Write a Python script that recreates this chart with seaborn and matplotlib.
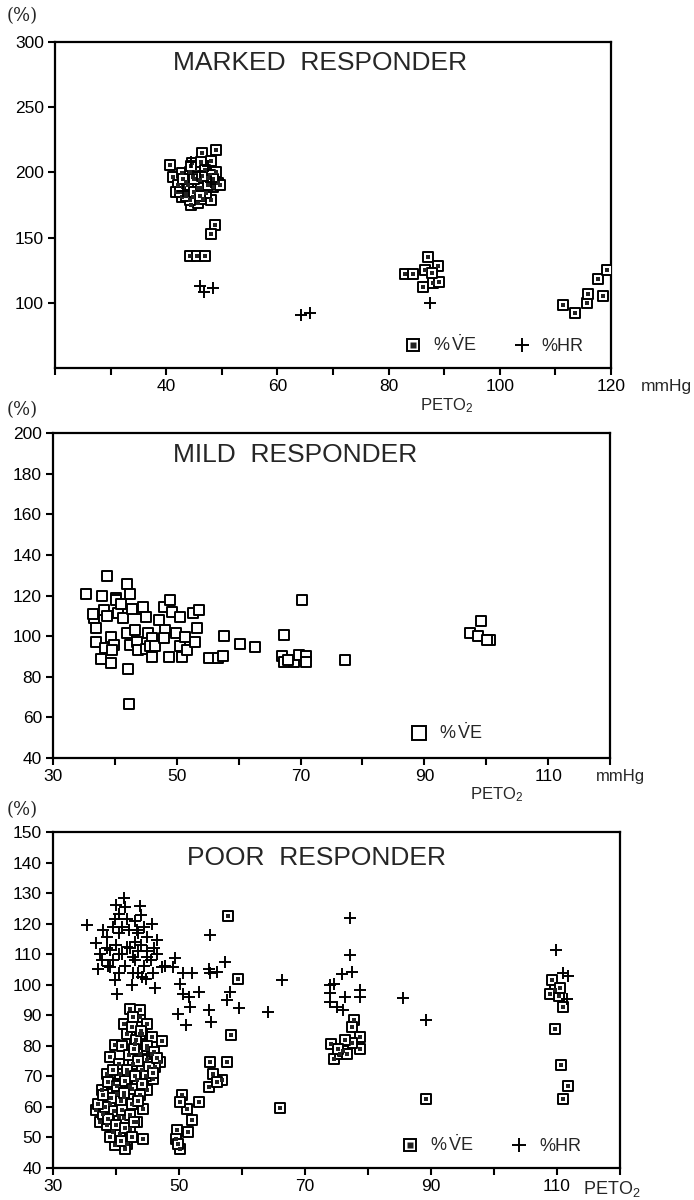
import numpy as np
import pandas as pd
import matplotlib
matplotlib.use("Agg")
import matplotlib.pyplot as plt
import seaborn as sns
from matplotlib.lines import Line2D
from matplotlib.legend_handler import HandlerTuple

# ---------------- data ----------------
# MARKED RESPONDER
marked_ve_x = [40.7, 49.0, 46.4, 44.6, 46.3, 48.0, 41.3, 42.8, 44.2, 45.4, 46.9, 49.0, 49.3, 47.5,
               46.0, 44.8, 43.6, 42.1, 41.8, 42.8, 43.6, 44.8, 44.5, 45.8, 46.6, 48.0, 47.2, 48.4,
               49.6, 45.7, 43.0, 44.2,
               43.5, 44.0, 45.0, 46.3, 47.5, 46.0, 45.0, 43.0, 47.8, 48.5, 42.5, 44.5, 46.5,
               48.8, 48.0, 44.3, 45.5, 47.0,
               83.0, 84.4, 87.1, 86.5, 88.9, 86.2, 88.0, 89.0, 87.8,
               111.4, 113.5, 115.7, 115.9, 118.6, 117.7, 119.3]
marked_ve_y = [206, 217, 215, 207.5, 208, 209, 196.8, 199.3, 200.6, 200.6, 201.9, 200.6, 191.7, 195.5,
               194.2, 196.8, 193, 190.4, 185.3, 181.5, 185.3, 181.5, 175.1, 176.4, 179.5, 178.9, 184, 189.1,
               190.4, 187.9, 189.1, 178.9,
               182, 190, 185, 188, 190, 182, 195, 195, 198, 195, 185, 205, 197,
               160, 153, 136, 136, 136,
               122.3, 122, 135, 125, 128.5, 112, 115, 116, 123,
               98, 92, 100, 107, 105.5, 118, 125]
marked_hr_x = [46.1, 46.8, 48.4, 64.2, 65.9, 87.4, 46.0, 44.5, 48.0, 43.0, 47.5]
marked_hr_y = [113, 108.5, 111.5, 91, 92, 100, 200, 208, 193, 186, 205]

# MILD RESPONDER
mild_ve_x = [35.3, 38.7, 37.9, 41.9, 42.4, 40.2, 36.7, 36.5, 36.9, 37.0, 37.8, 39.4, 38.4, 42.1,
             42.3, 39.4, 39.9, 39.6, 38.3, 38.8, 40.5, 41.3, 40.2, 41.0, 42.7, 41.9, 42.4, 43.2,
             44.3, 44.6, 43.5, 43.8, 45.0, 45.1, 45.4, 46.0, 45.7, 46.0, 46.5, 47.2, 48.0, 48.9,
             48.1, 47.9, 48.7, 49.2, 49.9, 50.6, 50.8, 50.6, 51.4, 51.7, 52.7, 53.6, 53.3, 53.0,
             55.2, 56.6, 57.4, 57.6, 60.2, 62.6, 67.3, 67.0, 67.3, 69.0, 69.7, 70.8, 70.8, 67.9,
             70.3, 77.2, 99.2, 97.3, 98.7, 100.6, 100.1]
mild_ve_y = [120.5, 129.6, 119.7, 125.5, 120.5, 118.6, 108.7, 111.0, 103.8, 97.2, 88.5, 86.6, 94.0, 83.6,
             66.5, 99.7, 95.6, 93.3, 112.8, 109.8, 111.2, 108.8, 118.0, 116.0, 113.6, 101.3, 95.6, 103.0,
             113.6, 114.4, 97.2, 93.1, 93.8, 109.5, 101.3, 98.9, 94.9, 89.8, 94.9, 107.9, 114.4, 117.7,
             103.0, 98.9, 89.8, 112.0, 101.3, 109.5, 89.8, 94.9, 99.7, 93.1, 111.2, 112.8, 104.1, 97.2,
             89.0, 89.0, 90.1, 100.2, 96.0, 94.8, 100.5, 90.0, 87.1, 87.1, 90.7, 90.0, 87.1, 88.2,
             117.7, 88.2, 107.5, 101.3, 100.2, 98.1, 98.3]

# POOR RESPONDER
poor_ve_x = [36.9, 37.5, 37.8, 38.5, 39.0, 39.8, 41.2, 41.7, 42.2, 43.8, 44.9, 45.7, 47.3, 47.0,
             45.9, 44.9, 44.3, 43.3, 42.2, 41.7, 39.8, 39.6, 38.5, 44.3, 41.4, 40.4, 41.2, 42.2,
             40.6, 39.6, 42.7, 43.8, 44.9, 44.1, 43.3, 42.5, 41.2, 39.0, 40.1, 41.7, 43.0, 44.1,
             44.9, 45.7, 46.2, 37.9, 40.6, 43.8, 43.8, 42.7,
             42.5, 43.2, 41.0, 45.0, 46.0, 42.0, 43.5, 45.2, 40.5, 41.8, 43.0, 44.8, 39.5, 38.8,
             40.2, 41.5, 42.6, 43.8, 39.2, 40.8, 38.2, 39.7, 41.0, 42.3, 43.5, 38.8, 40.0, 41.5,
             42.8, 39.0, 40.8, 42.6, 37.2, 46.5, 44.0, 42.9, 41.2, 44.2, 45.8, 38.0,
             57.7, 59.4, 58.3, 55.0, 57.6, 56.8, 55.4, 54.8, 56.1, 53.1, 51.2, 50.4, 50.2, 52.0,
             51.5, 49.7, 49.6, 50.2, 49.9, 66.1,
             77.7, 77.5, 78.7, 78.7, 77.5, 76.3, 74.2, 74.6, 75.5, 76.1, 76.6, 75.2, 89.2,
             109.2, 109.7, 108.9, 110.3, 110.9, 109.7, 110.6, 111.8, 111.0, 110.4]
poor_ve_y = [58.9, 55.0, 65.4, 70.9, 76.3, 80.2, 87.3, 84.0, 92.2, 89.4, 87.3, 82.9, 81.5, 74.7,
             69.3, 65.4, 59.4, 55.0, 52.8, 47.9, 47.5, 51.7, 54.1, 49.6, 46.3, 56.6, 63.2, 66.5,
             70.9, 67.6, 74.1, 77.4, 79.0, 72.0, 68.8, 61.0, 56.5, 61.0, 64.3, 70.9, 80.7, 84.0,
             75.2, 77.4, 73.1, 57.8, 51.1, 84.0, 91.6, 89.4,
             86.0, 82.0, 80.0, 80.0, 78.0, 77.0, 75.0, 73.0, 74.0, 72.0, 70.0, 70.0, 72.0, 68.0,
             67.0, 68.5, 66.0, 64.0, 63.0, 62.0, 60.0, 58.5, 59.0, 57.5, 62.0, 56.0, 54.0, 53.0,
             55.0, 50.0, 49.0, 50.0, 61.0, 76.0, 85.0, 79.0, 64.5, 67.5, 71.0, 64.0,
             122.5, 101.8, 83.4, 74.7, 74.7, 68.9, 70.9, 66.5, 68.0, 61.5, 59.4, 63.8, 61.6, 55.6,
             51.7, 52.3, 49.6, 46.3, 47.9, 59.6,
             88.4, 86.3, 82.9, 79.1, 80.8, 81.9, 80.7, 75.7, 77.4, 78.4, 77.2, 79.0, 62.6,
             101.5, 98.2, 97.1, 96.4, 92.7, 85.6, 73.6, 66.7, 62.7, 99.0]
poor_hr_x = [35.4, 41.4, 40.0, 43.8, 44.0, 39.8, 45.7, 38.0, 38.5, 37.2, 36.9, 39.0, 39.0, 40.5,
             41.7, 43.0, 42.7, 44.9, 46.5, 46.5, 47.3, 44.9, 40.1, 39.8, 46.2, 42.7, 44.1, 41.7,
             43.3, 37.4, 40.5,
             38.5, 39.5, 40.0, 41.0, 41.5, 42.2, 43.0, 43.5, 44.0, 44.5, 45.0, 45.5, 46.0, 42.0,
             41.0, 43.5, 40.5, 39.5, 37.8, 38.7, 40.5, 42.5, 43.5, 44.8, 45.8, 47.8, 41.3, 44.5, 43.0,
             49.4, 49.1, 50.6, 52.0, 50.2, 50.6, 51.6, 49.9, 51.1, 51.7, 53.2, 55.0, 54.8, 56.0,
             55.0, 54.7, 55.1, 57.3, 58.1, 57.6, 59.6, 66.3, 64.2,
             77.1, 77.1, 77.4, 75.9, 73.9, 74.6, 78.7, 78.7, 73.9, 75.0, 76.3, 76.0, 73.9,
             85.6, 89.2, 109.9, 110.9, 111.7, 111.6]
poor_hr_y = [119.5, 125.5, 126.0, 125.7, 122.8, 121.6, 119.8, 117.9, 115.7, 105.3, 113.5, 111.3, 105.8, 110.2,
             112.4, 114.0, 109.1, 115.7, 114.6, 110.2, 105.8, 109.0, 97.1, 101.5, 98.8, 103.7, 102.6, 121.4,
             118.0, 110.2, 116.8,
             112, 108, 113, 110, 106, 112, 108, 111, 113, 106, 111, 108, 112, 118,
             119, 117, 123, 119, 108, 106, 104, 100, 104, 102, 104, 106, 128.5, 119, 121,
             108.6, 105.8, 103.7, 103.9, 100.3, 97.1, 96.0, 90.5, 86.7, 92.7, 97.6, 116.3, 105.3, 104.2,
             103.8, 91.6, 87.8, 107.5, 97.6, 94.9, 92.4, 101.5, 91.0,
             121.9, 109.7, 104.2, 103.4, 99.8, 100.2, 98.2, 96.0, 94.4, 92.7, 96.0, 91.6, 97.2,
             95.6, 88.3, 111.3, 103.9, 102.8, 95.4]

# ---------------- style ----------------
sns.set_style("ticks")
plt.rcParams['font.family'] = ['Liberation Sans', 'DejaVu Sans']
plt.rcParams['mathtext.fontset'] = 'custom'
plt.rcParams['mathtext.rm'] = 'Liberation Sans'
plt.rcParams['mathtext.it'] = 'Liberation Sans'

fig = plt.figure(figsize=(6.94, 12), dpi=100)
W, H = 694, 1200


def make_ax(l, t, r, b):
    return fig.add_axes([l / W, 1 - b / H, (r - l) / W, (b - t) / H])


ax1 = make_ax(55, 42, 611, 368)
ax2 = make_ax(53, 433, 610, 758)
ax3 = make_ax(53, 832, 620, 1168)

SQ = 46
PL = 75


def ve_layer(ax, x, y, inner=True):
    d = pd.DataFrame({"x": x, "y": y})
    sns.scatterplot(data=d, x="x", y="y", ax=ax, marker="s", s=SQ, facecolor="white",
                    edgecolor="black", linewidth=1.4, zorder=3, legend=False)
    if inner:
        sns.scatterplot(data=d, x="x", y="y", ax=ax, marker="s", s=7, color="#222222",
                        linewidth=0, zorder=4, legend=False)


def hr_layer(ax, x, y):
    d = pd.DataFrame({"x": x, "y": y})
    sns.scatterplot(data=d, x="x", y="y", ax=ax, marker="+", s=PL, color="black",
                    linewidth=1.4, zorder=5, legend=False)


ve_layer(ax1, marked_ve_x, marked_ve_y)
hr_layer(ax1, marked_hr_x, marked_hr_y)
ve_layer(ax2, mild_ve_x, mild_ve_y, inner=False)
ve_layer(ax3, poor_ve_x, poor_ve_y)
hr_layer(ax3, poor_hr_x, poor_hr_y)

# axes limits / ticks
ax1.set_xlim(20, 120)
ax1.set_ylim(50, 300)
ax1.set_xticks(np.arange(20, 121, 10))
ax1.set_xticklabels(["" if v not in (40, 60, 80, 100, 120) else str(v) for v in range(20, 121, 10)])
ax1.set_yticks(np.arange(100, 301, 50))

ax2.set_xlim(30, 120)
ax2.set_ylim(40, 200)
ax2.set_xticks(np.arange(30, 121, 10))
ax2.set_xticklabels([str(v) if v in (30, 50, 70, 90, 110) else "" for v in range(30, 121, 10)])
ax2.set_yticks(np.arange(40, 201, 20))

ax3.set_xlim(30, 120)
ax3.set_ylim(40, 150)
ax3.set_xticks(np.arange(30, 121, 10))
ax3.set_xticklabels([str(v) if v in (30, 50, 70, 90, 110) else "" for v in range(30, 121, 10)])
ax3.set_yticks(np.arange(40, 151, 10))

for ax in (ax1, ax2, ax3):
    ax.set_xlabel("")
    ax.set_ylabel("")
    for sp in ax.spines.values():
        sp.set_visible(True)
        sp.set_linewidth(1.6)
        sp.set_color("black")
    ax.tick_params(direction="out", length=5, width=1.5, labelsize=12.5, colors="black", pad=3)

# titles
ax1.text(0.477, 0.936, "MARKED  RESPONDER", transform=ax1.transAxes, ha="center", va="center", fontsize=19)
ax2.text(0.434, 0.932, "MILD  RESPONDER", transform=ax2.transAxes, ha="center", va="center", fontsize=19)
ax3.text(0.464, 0.923, "POOR  RESPONDER", transform=ax3.transAxes, ha="center", va="center", fontsize=19)

# legends
ve_h = (Line2D([], [], marker="s", ls="", markersize=9, mfc="white", mec="black", mew=1.4),
        Line2D([], [], marker="s", ls="", markersize=4, mfc="#222222", mec="none"))
ve_open = Line2D([], [], marker="s", ls="", markersize=10, mfc="white", mec="black", mew=1.4)
hr_h = Line2D([], [], marker="+", ls="", markersize=10, color="black", mew=1.4)
ve_lab = r"%$\,\dot{\mathrm{V}}$E"
hr_lab = "%HR"

for ax, xa in ((ax1, 0.98), (ax3, 0.96)):
    ax.legend([ve_h, hr_h], [ve_lab, hr_lab], handler_map={tuple: HandlerTuple(ndivide=1, pad=0)},
              loc="lower right", bbox_to_anchor=(xa, -0.01), ncol=2, frameon=False, fontsize=13,
              handlelength=1.0, handletextpad=0.6, columnspacing=2.0)
ax2.legend([ve_open], [ve_lab], loc="lower right", bbox_to_anchor=(0.80, -0.005), frameon=False,
           fontsize=13, handlelength=1.0, handletextpad=0.6)

# axis unit labels
ax1.text(0.705, -0.115, r"PETO$_{\mathrm{2}}$", transform=ax1.transAxes, ha="center", va="center", fontsize=12)
ax1.text(1.10, -0.058, "mmHg", transform=ax1.transAxes, ha="center", va="center", fontsize=12.5)
ax2.text(0.797, -0.114, r"PETO$_{\mathrm{2}}$", transform=ax2.transAxes, ha="center", va="center", fontsize=12)
ax2.text(1.018, -0.058, "mmHg", transform=ax2.transAxes, ha="center", va="center", fontsize=12)
ax3.text(0.935, -0.062, r"PETO$_{\mathrm{2}}$", transform=ax3.transAxes, ha="left", va="center", fontsize=13)

# (%) labels
for ypx in (16, 410, 810):
    fig.text(22 / W, 1 - ypx / H, "(%)", ha="center", va="center", fontsize=13,
             family=["DejaVu Serif", "DejaVu Sans"])

fig.savefig("out.png", dpi=100, facecolor="white")
